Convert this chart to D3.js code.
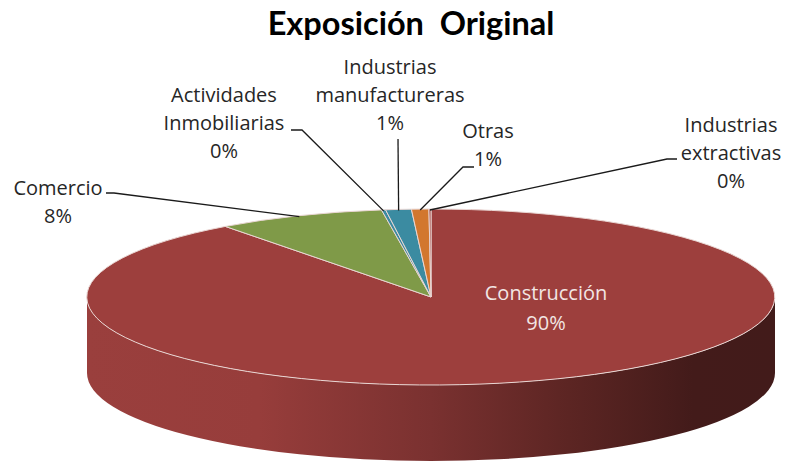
<!DOCTYPE html>
<html>
<head>
<meta charset="utf-8">
<script src="https://cdn.jsdelivr.net/npm/d3@7"></script>
<style>
  body { margin: 0; background: #fff; }
  text { font-family: "Open Sans", Lato, sans-serif; white-space: pre; }
  .title { font-family: Lato, "Open Sans", sans-serif; }
</style>
</head>
<body>
<svg id="chart" width="786" height="465"></svg>
<script>
// data
var categories = ["Construcción", "Comercio", "Actividades Inmobiliarias",
                  "Industrias manufactureras", "Otras", "Industrias extractivas"];
var values = [89.8, 7.9, 0.2, 1.2, 0.8, 0.1];
var labelLines = [["Construcción"], ["Comercio"], ["Actividades", "Inmobiliarias"],
                  ["Industrias", "manufactureras"], ["Otras"], ["Industrias", "extractivas"]];
var colors = ["#9d3f3d", "#7f9a48", "#3b8ba1", "#3b8ba1", "#d2772e", "#9d3f3d"];

// layout of labels (text centre x, first baseline y, leader elbow start)
var labelPos = [
  {x: 546, y: 300, lead: null},
  {x: 58,  y: 195, lead: [[106, 193], [114, 193]]},
  {x: 224, y: 102, lead: [[291, 130], [302, 130]]},
  {x: 390, y: 74,  lead: [[398, 139]]},
  {x: 488, y: 138, lead: [[474, 167], [463, 167]]},
  {x: 731, y: 132, lead: [[677, 159], [667, 159]]}
];

var svg = d3.select("#chart");
var cx = 431, cy = 297, rx = 344, ry = 88, depth = 76;
var lineH = 28;

var defs = svg.append("defs");
var grad = defs.append("linearGradient")
  .attr("id", "wallGrad")
  .attr("gradientUnits", "userSpaceOnUse")
  .attr("x1", cx - rx).attr("x2", cx + rx).attr("y1", 0).attr("y2", 0);
grad.append("stop").attr("offset", "0%").attr("stop-color", "#9a3f3d");
grad.append("stop").attr("offset", "25%").attr("stop-color", "#973d3b");
grad.append("stop").attr("offset", "50%").attr("stop-color", "#7a3130");
grad.append("stop").attr("offset", "70%").attr("stop-color", "#5c2523");
grad.append("stop").attr("offset", "88%").attr("stop-color", "#431b1a");
grad.append("stop").attr("offset", "100%").attr("stop-color", "#421b1a");

// title
svg.append("text")
  .attr("class", "title")
  .attr("x", 411).attr("y", 35)
  .attr("text-anchor", "middle")
  .style("font-size", "32.5px")
  .style("font-weight", "bold")
  .attr("fill", "#000")
  .text("Exposición  Original");

// side wall (front half only, red slice covers it)
svg.append("path")
  .attr("d", "M" + (cx + rx) + "," + cy +
             " A" + rx + " " + ry + " 0 0 1 " + (cx - rx) + "," + cy +
             " L" + (cx - rx) + "," + (cy + depth) +
             " A" + rx + " " + ry + " 0 0 0 " + (cx + rx) + "," + (cy + depth) + " Z")
  .attr("fill", "url(#wallGrad)");

// top slices: unit circle arcs scaled into the ellipse
var pie = d3.pie().sort(null).value(function(d) { return d; })
  .startAngle(0).endAngle(2 * Math.PI);
var arcs = pie(values);
var arc = d3.arc().innerRadius(0).outerRadius(1);

var topG = svg.append("g")
  .attr("transform", "translate(" + cx + "," + cy + ") scale(" + rx + "," + ry + ")");

topG.selectAll("path")
  .data(arcs)
  .enter()
  .append("path")
  .attr("d", arc)
  .attr("fill", function(d, i) { return colors[i]; })
  .attr("stroke", "#e9d6d3")
  .attr("stroke-width", 1)
  .attr("vector-effect", "non-scaling-stroke");

function ellipsePoint(a) {
  return [cx + rx * Math.sin(a), cy - ry * Math.cos(a)];
}

var pct = d3.format(".0%");
var total = d3.sum(values);

// labels and leader lines
arcs.forEach(function(d, i) {
  var p = labelPos[i];
  var inside = (i === 0);
  var g = svg.append("g");
  var lines = labelLines[i].concat([pct(values[i] / total)]);
  g.selectAll("text")
    .data(lines)
    .enter()
    .append("text")
    .attr("x", p.x)
    .attr("y", function(t, j) { return p.y + j * (inside ? 30 : lineH); })
    .attr("text-anchor", "middle")
    .style("font-size", "20px")
    .attr("fill", inside ? "#f2e6e4" : "#262626")
    .text(function(t) { return t; });

  if (p.lead) {
    var end = ellipsePoint((d.startAngle + d.endAngle) / 2);
    var pts = p.lead.concat([[end[0], end[1] + 1]]);
    svg.append("path")
      .attr("d", d3.line()(pts))
      .attr("fill", "none")
      .attr("stroke", "#1a1a1a")
      .attr("stroke-width", 1.3);
  }
});
</script>
</body>
</html>
